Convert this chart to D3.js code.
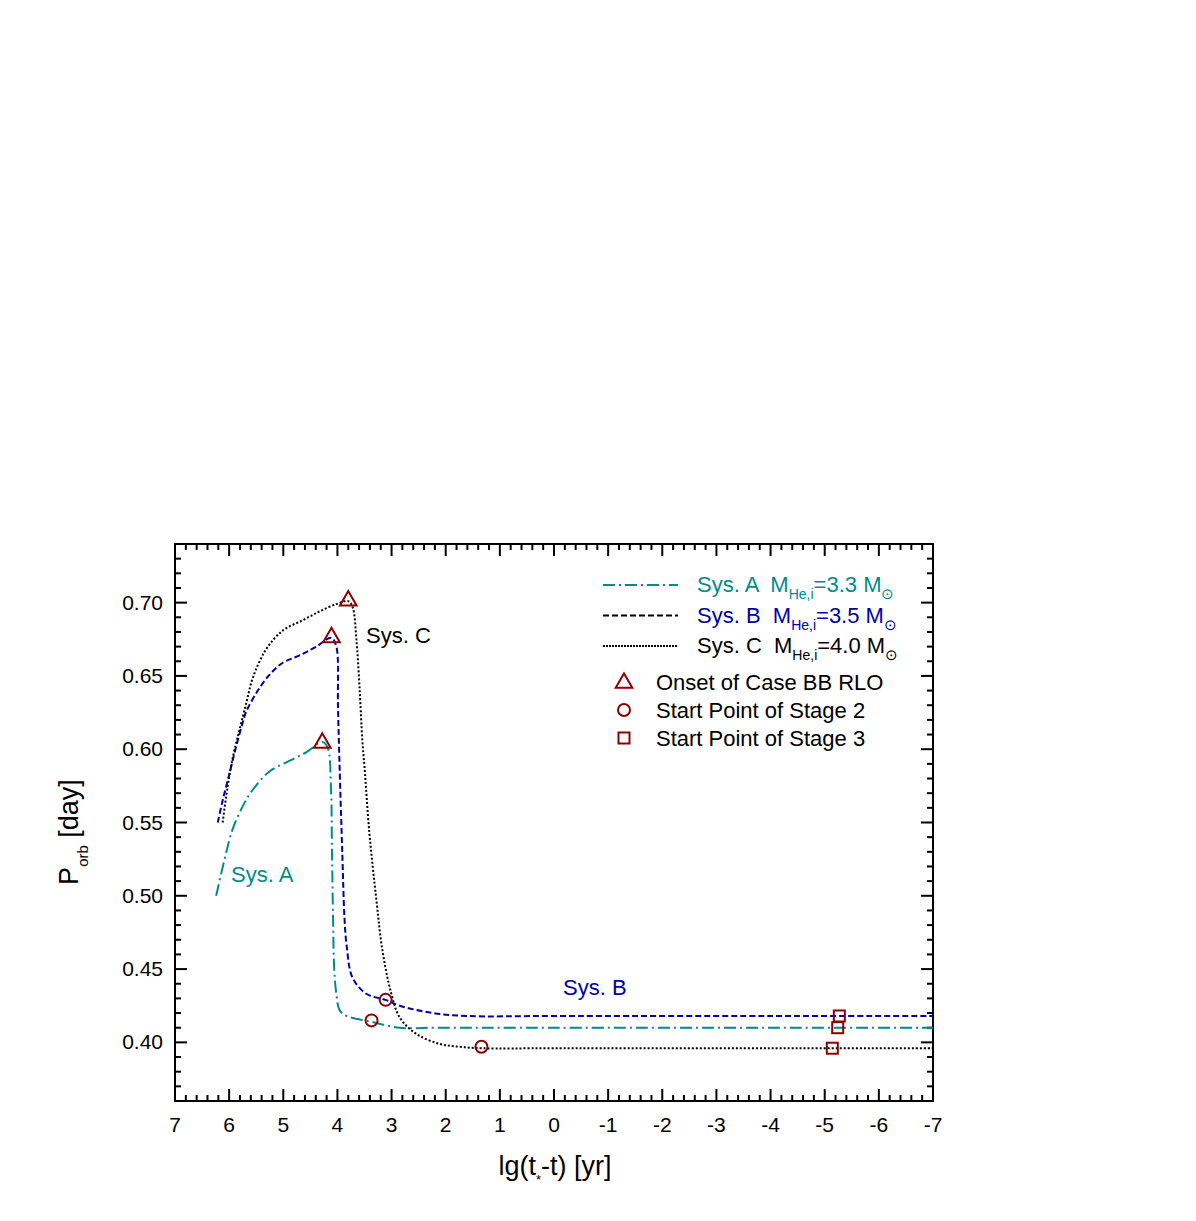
<!DOCTYPE html>
<html lang="en">
<head>
<meta charset="UTF-8">
<title>Porb vs lg(t*-t)</title>
<script src="https://cdn.jsdelivr.net/npm/d3@7"></script>
<style>
	body{ margin:0; background:#fff; }
	text{ font-family: "Liberation Sans", Arial, sans-serif; }
	.frame{ fill:none; stroke:#000; stroke-width:2; }
	.tick line{ stroke:#000; stroke-width:2; }
	.curve{ fill:none; stroke-width:2; }
	.marker{ fill:none; stroke:#8b0000; stroke-width:2; }
</style>
</head>
<body>
<div id="main"></div>
<script>
// --- data ---
var sysA = [[6.24,0.500],[6.09,0.524],[5.94,0.545],[5.75,0.561],[5.57,0.572],[5.25,0.585],[4.89,0.592],
	[4.57,0.598],[4.28,0.605],[4.18,0.601],[4.12,0.574],[4.10,0.529],[4.08,0.483],[4.06,0.451],[4.02,0.433],
	[3.96,0.422],[3.83,0.418],[3.37,0.414],[2.85,0.410],[2.2,0.410],[0,0.410],[-4,0.410],[-7,0.410]];
var sysB = [[6.21,0.550],[6.12,0.565],[5.99,0.584],[5.87,0.602],[5.75,0.618],[5.68,0.626],[5.47,0.640],
	[5.25,0.651],[5.01,0.659],[4.70,0.664],[4.39,0.670],[4.11,0.676],[4.02,0.670],[3.99,0.629],[3.96,0.588],
	[3.91,0.529],[3.87,0.485],[3.83,0.466],[3.72,0.444],[3.46,0.433],[3.11,0.429],[2.85,0.425],[2.24,0.420],
	[1.62,0.418],[0,0.418],[-4,0.418],[-7,0.418]];
var sysC = [[6.12,0.550],[6.03,0.574],[5.94,0.593],[5.81,0.613],[5.68,0.632],[5.56,0.649],[5.32,0.668],
	[5.01,0.681],[4.64,0.688],[4.33,0.694],[4.02,0.699],[3.80,0.701],[3.72,0.697],[3.65,0.675],[3.59,0.641],
	[3.54,0.606],[3.50,0.588],[3.41,0.543],[3.28,0.497],[3.17,0.463],[3.01,0.434],[2.85,0.417],[2.55,0.406],
	[2.12,0.399],[1.75,0.397],[1.34,0.396],[0,0.396],[-4,0.396],[-7,0.396]];

var onsetRLO = [[4.28,0.605],[4.11,0.677],[3.80,0.702]];
var stage2 = [[3.37,0.415],[3.11,0.429],[1.34,0.397]];
var stage3 = [[-5.24,0.410],[-5.27,0.418],[-5.14,0.396]];

var xTicks = d3.range(7, -7.5, -1);
var yTicks = [0.40, 0.45, 0.50, 0.55, 0.60, 0.65, 0.70];

var teal = "#008b8b", blue = "#0000a8";

// --- layout ---
var width = 1196, height = 1221,
	margin = {left:175, top:544, right:263, bottom:120},
	plotW = width - margin.left - margin.right,
	plotH = height - margin.top - margin.bottom;

var svg = d3.select("#main").append("svg")
	.attr("width", width).attr("height", height);

var x = d3.scaleLinear().domain([7, -7]).range([margin.left, margin.left + plotW]);
var y = d3.scaleLinear().domain([0.36, 0.74]).range([margin.top + plotH, margin.top]);

var xMinor = d3.range(7, -7.01, -0.2).map(function(d){ return Math.round(d*10)/10; });
var yMinor = d3.range(0.36, 0.7401, 0.01).map(function(d){ return Math.round(d*100)/100; });

function isMajorX(d){ return Math.abs(d - Math.round(d)) < 1e-6; }
function isMajorY(d){ return Math.abs(d*20 - Math.round(d*20)) < 1e-6; }

// ticks on all four sides, pointing inwards
var gT = svg.append("g").attr("class", "tick");
xMinor.forEach(function(d){
	var len = isMajorX(d) ? 12 : 6;
	gT.append("line").attr("x1", x(d)).attr("x2", x(d)).attr("y1", y.range()[0]).attr("y2", y.range()[0] - len);
	gT.append("line").attr("x1", x(d)).attr("x2", x(d)).attr("y1", y.range()[1]).attr("y2", y.range()[1] + len);
});
yMinor.forEach(function(d){
	var len = isMajorY(d) ? 12 : 6;
	gT.append("line").attr("y1", y(d)).attr("y2", y(d)).attr("x1", x.range()[0]).attr("x2", x.range()[0] + len);
	gT.append("line").attr("y1", y(d)).attr("y2", y(d)).attr("x1", x.range()[1]).attr("x2", x.range()[1] - len);
});

svg.append("rect").attr("class", "frame")
	.attr("x", margin.left).attr("y", margin.top).attr("width", plotW).attr("height", plotH);

// tick labels
svg.selectAll("text.xl").data(xTicks).enter().append("text")
	.attr("class", "xl")
	.attr("x", function(d){ return x(d); })
	.attr("y", y.range()[0] + 31)
	.attr("text-anchor", "middle")
	.attr("font-size", 21)
	.text(function(d){ return d; });

svg.selectAll("text.yl").data(yTicks).enter().append("text")
	.attr("class", "yl")
	.attr("x", x.range()[0] - 12)
	.attr("y", function(d){ return y(d) + 7; })
	.attr("text-anchor", "end")
	.attr("font-size", 21)
	.text(function(d){ return d.toFixed(2); });

// axis titles
var xt = svg.append("text")
	.attr("x", 555).attr("y", 1175)
	.attr("text-anchor", "middle").attr("font-size", 27);
xt.append("tspan").text("lg(t");
xt.append("tspan").attr("font-size", 13).attr("dy", 9).text("*");
xt.append("tspan").attr("dy", -9).text("-t) [yr]");

var yt = svg.append("text")
	.attr("transform", "translate(78,832) rotate(-90)")
	.attr("text-anchor", "middle").attr("font-size", 27);
yt.append("tspan").text("P");
yt.append("tspan").attr("font-size", 15).attr("dy", 10).text("orb");
yt.append("tspan").attr("dy", -10).text(" [day]");

// curves
var line = d3.line()
	.x(function(d){ return x(d[0]); })
	.y(function(d){ return y(d[1]); })
	.curve(d3.curveCatmullRom.alpha(0.5));

var series = [
	{data: sysA, color: teal, dash: "12,4,2,4"},
	{data: sysB, color: blue, dash: "6,3"},
	{data: sysC, color: "#000", dash: "2,2"}
];

svg.selectAll("path.curve").data(series).enter().append("path")
	.attr("class", "curve")
	.attr("d", function(d){ return line(d.data); })
	.attr("stroke", function(d){ return d.color; })
	.attr("stroke-dasharray", function(d){ return d.dash; });

// markers
var tri = d3.symbol().type(d3.symbolTriangle).size(120);
svg.selectAll("path.tri").data(onsetRLO).enter().append("path")
	.attr("class", "marker")
	.attr("transform", function(d){ return "translate(" + x(d[0]) + "," + (y(d[1]) + 1) + ")"; })
	.attr("d", tri);

svg.selectAll("circle.st2").data(stage2).enter().append("circle")
	.attr("class", "marker")
	.attr("cx", function(d){ return x(d[0]); })
	.attr("cy", function(d){ return y(d[1]); })
	.attr("r", 6);

svg.selectAll("rect.st3").data(stage3).enter().append("rect")
	.attr("class", "marker")
	.attr("x", function(d){ return x(d[0]) - 5.5; })
	.attr("y", function(d){ return y(d[1]) - 5.5; })
	.attr("width", 11).attr("height", 11);

// in-plot labels
svg.append("text").attr("x", 366).attr("y", 643).attr("font-size", 22).attr("fill", "#000").text("Sys. C");
svg.append("text").attr("x", 231).attr("y", 882).attr("font-size", 22).attr("fill", teal).text("Sys. A");
svg.append("text").attr("x", 563).attr("y", 995).attr("font-size", 22).attr("fill", blue).text("Sys. B");

// legend
var legendLines = [
	{name: "Sys. A", mass: "3.3", color: teal, line: teal, dash: "12,4,2,4"},
	{name: "Sys. B", mass: "3.5", color: blue, line: "#000", dash: "6,3"},
	{name: "Sys. C", mass: "4.0", color: "#000", line: "#000", dash: "2,1"}
];
var lg = svg.append("g");
legendLines.forEach(function(d, i){
	var yy = 585 + i*30.5;
	lg.append("line").attr("x1", 603).attr("x2", 678).attr("y1", yy).attr("y2", yy)
		.attr("stroke", d.line).attr("stroke-width", 2).attr("stroke-dasharray", d.dash);
	var t = lg.append("text").attr("x", 697).attr("y", yy + 7).attr("font-size", 22).attr("fill", d.color)
		.attr("xml:space", "preserve");
	t.append("tspan").text(d.name + "  M");
	t.append("tspan").attr("font-size", 14).attr("dy", 7).text("He,i");
	t.append("tspan").attr("dy", -7).text("=" + d.mass + " M");
	t.append("tspan").attr("font-size", 15).attr("dy", 7).text("\u2299");
});

var legendMarks = ["Onset of Case BB RLO", "Start Point of Stage 2", "Start Point of Stage 3"];
legendMarks.forEach(function(label, i){
	var yy = 682 + i*28;
	if(i == 0) lg.append("path").attr("class", "marker").attr("transform", "translate(624," + (yy + 1) + ")").attr("d", tri);
	if(i == 1) lg.append("circle").attr("class", "marker").attr("cx", 624).attr("cy", yy).attr("r", 6);
	if(i == 2) lg.append("rect").attr("class", "marker").attr("x", 618.5).attr("y", yy - 5.5).attr("width", 11).attr("height", 11);
	lg.append("text").attr("x", 656).attr("y", yy + 8).attr("font-size", 22).text(label);
});
</script>
</body>
</html>
